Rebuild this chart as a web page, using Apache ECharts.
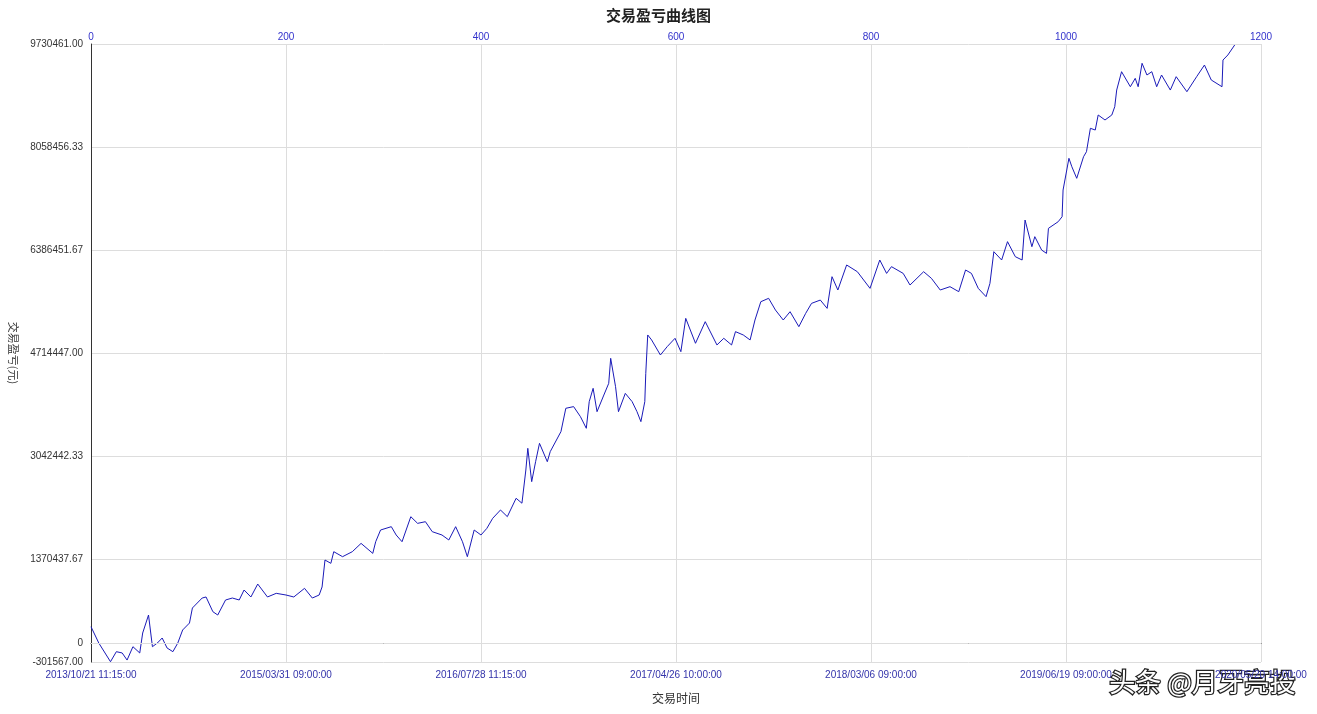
<!DOCTYPE html>
<html><head><meta charset="utf-8">
<script src="https://cdn.jsdelivr.net/npm/echarts@6/dist/echarts.min.js"></script>
<style>html,body{margin:0;padding:0;background:#fff}#c{width:1317px;height:714px}</style>
</head><body><div id="c"></div>
<script>
const tradeIndex = [0,8,20,26,32,37,43,50,53,59,63,68,73,78,84,89,94,101,104,114,118,125,130,138,145,152,157,164,171,181,190,200,208,219,227,234,237,240,246,249,258,268,277,289,292,297,308,313,319,328,335,343,350,360,367,374,381,386,393,400,406,412,420,427,436,442,446,448,452,456,460,468,471,482,487,495,502,508,511,515,519,526,531,533,538,541,548,555,560,564,568,569,571,575,584,591,599,605,610,620,630,642,649,657,661,669,676,681,687,695,702,710,717,726,733,739,748,755,760,766,775,786,799,809,816,821,833,840,854,862,871,881,890,897,903,910,918,922,926,934,940,948,955,958,965,968,975,980,982,992,996,997,1003,1006,1011,1018,1021,1025,1030,1033,1040,1047,1050,1052,1057,1066,1071,1074,1078,1083,1088,1093,1098,1107,1113,1124,1134,1142,1149,1160,1161,1166,1173];
const pnl = [271000,6000,-297000,-134000,-155000,-270000,-53000,-155000,169000,461000,-53000,6000,88000,-74000,-134000,6000,218000,331000,575000,737000,754000,515000,461000,705000,737000,705000,867000,754000,964000,754000,813000,786000,754000,894000,737000,786000,916000,1354000,1300000,1489000,1408000,1489000,1624000,1462000,1651000,1841000,1895000,1760000,1651000,2057000,1949000,1976000,1814000,1760000,1679000,1895000,1651000,1408000,1841000,1760000,1868000,2031000,2166000,2058000,2356000,2276000,2815000,3167000,2626000,2950000,3248000,2950000,3113000,3438000,3817000,3844000,3681000,3492000,3925000,4141000,3762000,4032000,4222000,4628000,4168000,3762000,4059000,3925000,3762000,3600000,3925000,4384000,5007000,4926000,4682000,4818000,4953000,4736000,5277000,4872000,5223000,4845000,4953000,4845000,5061000,5007000,4926000,5250000,5547000,5602000,5412000,5250000,5385000,5142000,5358000,5520000,5574000,5439000,5953000,5737000,6143000,6034000,5764000,6224000,6007000,6116000,6007000,5818000,6034000,5926000,5737000,5791000,5710000,6062000,6007000,5764000,5629000,5845000,6359000,6224000,6522000,6278000,6224000,6873000,6440000,6603000,6386000,6332000,6738000,6846000,6927000,7360000,7875000,7738000,7550000,7901000,7982000,8362000,8334000,8578000,8497000,8578000,8713000,8983000,9281000,9037000,9173000,9037000,9417000,9227000,9281000,9037000,9227000,8983000,9200000,8956000,9200000,9389000,9146000,9037000,9470000,9552000,9714000];
const dateTicks = ['2013/10/21 11:15:00','2015/03/31 09:00:00','2016/07/28 11:15:00','2017/04/26 10:00:00','2018/03/06 09:00:00','2019/06/19 09:00:00','2020/05/20 14:00:00'];
const yMin = -301567, yMax = 9730461;

const chart = echarts.init(document.getElementById('c'));
chart.setOption({
  animation:false,
  title:{text:'交易盈亏曲线图',left:'center',top:3,textStyle:{fontSize:15,fontWeight:'bold',color:'#222',fontFamily:'Noto Sans CJK SC'}},
  grid:{left:90,right:56,top:44,bottom:52},
  xAxis:[
    {type:'value',position:'bottom',min:0,max:1200,interval:200,name:'交易时间',nameLocation:'middle',nameGap:30,
     nameTextStyle:{color:'#333',fontSize:12,fontFamily:'Noto Sans CJK SC'},
     axisLine:{lineStyle:{color:'#333'}},axisTick:{show:false},splitLine:{show:true,lineStyle:{color:'#ddd'}},
     axisLabel:{color:'#3333aa',fontSize:10,margin:8,formatter:v=>dateTicks[Math.round(v/200)]||''}},
    {type:'value',position:'top',min:0,max:1200,interval:200,
     axisLine:{show:false},axisTick:{show:false},splitLine:{show:false},
     axisLabel:{color:'#3333cc',fontSize:10,margin:2,formatter:v=>String(v)}}
  ],
  yAxis:{type:'value',min:yMin,max:yMax,interval:(yMax-yMin)/6,name:'交易盈亏(元)',nameLocation:'middle',nameGap:72,
     nameRotate:-90,nameTextStyle:{color:'#333',fontSize:11,fontFamily:'Noto Sans CJK SC'},
     axisLine:{show:true,lineStyle:{color:'#333'}},axisTick:{show:false},splitLine:{lineStyle:{color:'#ddd'}},
     axisLabel:{color:'#333',fontSize:10,formatter:v=>v.toFixed(2)}},
  series:[{type:'line',xAxisIndex:0,data:tradeIndex.map((x,i)=>[x,pnl[i]]),showSymbol:false,
    lineStyle:{color:'#1a1ab8',width:1},
    markLine:{silent:true,symbol:'none',data:[{yAxis:0}],lineStyle:{color:'#ddd',type:'solid',width:1},
      label:{position:'start',formatter:'0',color:'#333',fontSize:10,distance:8}}}],
  graphic:[{type:'text',right:20,bottom:18,style:{text:'头条 @月牙亮投',fontSize:26,fill:'#fff',stroke:'#222',lineWidth:2.5,fontFamily:'Noto Sans CJK SC'}}]
});
</script></body></html>
